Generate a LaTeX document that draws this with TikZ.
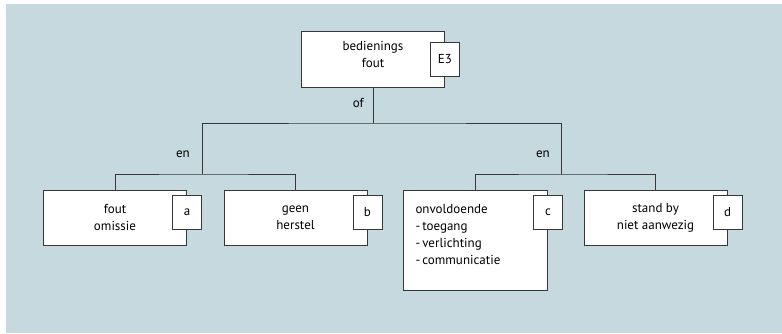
\documentclass[tikz,border=0pt]{standalone}
\usepackage{fontspec}
\setmainfont{PT Sans}
\usetikzlibrary{positioning}
\definecolor{fdbg}{RGB}{197,217,222}
\definecolor{fdline}{RGB}{55,55,55}

\begin{document}
\begin{tikzpicture}[x=1pt,y=-1pt,
	box/.style={draw=fdline, line width=1pt, fill=white, minimum width=143pt, minimum height=55pt, inner sep=0pt, align=center, font=\fontsize{13}{17}\selectfont},
	tag/.style={draw=fdline, line width=1pt, fill=white, minimum width=29pt, minimum height=34pt, inner sep=0pt, font=\fontsize{13}{15}\selectfont},
	conn/.style={draw=fdline, line width=1pt},
	lbl/.style={inner sep=0pt, font=\fontsize{13}{15}\selectfont}]
	\useasboundingbox (0,0) rectangle (782,333);
	\fill[fdbg] (6,4) rectangle (782,333);

	\coordinate (1of) at (373,123); \coordinate (2enL) at (202,174); \coordinate (2enR) at (561,174);

	\node [box, minimum height=56pt, text depth=10pt] at (373,59) (1bf) {bedienings\\fout};
	\node [box] at (115,217.5) (2fout) {fout\\omissie}; \node [box] at (295.5,217.5) (2geen) {geen\\herstel};
	\node [box, anchor=north west, inner xsep=12pt, inner ysep=13.5pt] at (403,190) (2onv) {\parbox[c][73pt][t]{120pt}{onvoldoende\\-\,toegang\\-\,verlichting\\-\,communicatie}};
	\node [box] at (655.5,217.5) (2stand) {stand by\\niet aanwezig};

	\draw[conn] (1bf.south) -- (1of); \draw[conn] (2enL) |- (1of) -| (2enR);
	\draw[conn] (2fout.north) |- (2enL) -| (2geen.north); \draw[conn] (2onv.north) |- (2enR) -| (2stand.north);
	\node [lbl, anchor=east] at (364,103) (1ofl) {of};
	\node [lbl, anchor=east] at (190,154) (2enLl) {en}; \node [lbl, anchor=east] at (550,154) (2enRl) {en};

	\node [tag, below=11pt of 1bf.north east] (1E3) {E3};
	\node [tag, below=5pt of 2fout.north east] (2a) {a}; \node [tag, below=5pt of 2geen.north east] (2b) {b};
	\node [tag, below=5pt of 2onv.north east] (2c) {c}; \node [tag, below=5pt of 2stand.north east] (2d) {d};
\end{tikzpicture}
\end{document}
